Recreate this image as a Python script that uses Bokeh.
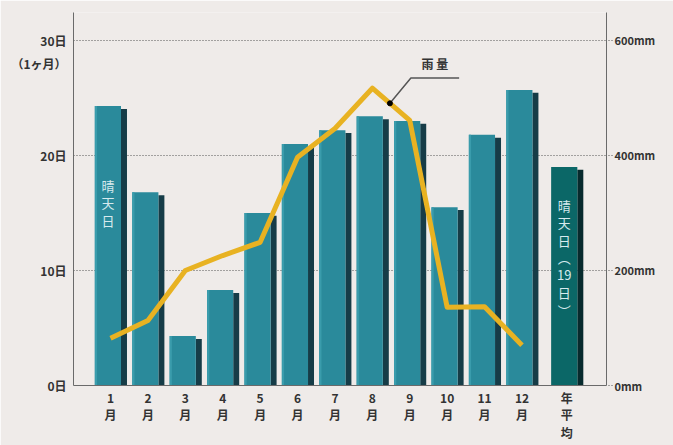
from bokeh.plotting import figure
from bokeh.models import Range1d, LinearAxis, FixedTicker, ColumnDataSource, Label
from bokeh.embed import file_html
from bokeh.resources import INLINE
from bokeh.core.properties import value

# ---------------- data ----------------
categories = ["1月", "2月", "3月", "4月", "5月", "6月", "7月", "8月", "9月", "10月", "11月", "12月", "年平均"]
tick_labels = ["1\n月", "2\n月", "3\n月", "4\n月", "5\n月", "6\n月", "7\n月", "8\n月", "9\n月", "10\n月", "11\n月", "12\n月", "年\n平\n均"]
sunny_days = [24.3, 16.8, 4.3, 8.3, 15.0, 21.0, 22.2, 23.4, 23.0, 15.5, 21.8, 25.7, 19.0]
rain_mm = [82, 113, 200, 226, 249, 397, 447, 517, 461, 136, 137, 70]
day_ticks = [0, 10, 20, 30]
day_tick_labels = ["0日", "10日", "20日", "30日"]
month_note = "（1ヶ月）"
mm_ticks = [0, 200, 400, 600]
mm_tick_labels = ["0mm", "200mm", "400mm", "600mm"]
bar_label = ["晴", "天", "日"]
avg_label = ["晴", "天", "日", "︵", "19", "日", "︶"]
rain_label = "雨 量"

# ---------------- style ----------------
BG = "#efebe9"
FRONT = "#2a8a9b"
SIDE = "#163c47"
HILITE = "#3a9cac"
AVG_FRONT = "#0b6767"
AVG_SIDE = "#072a2d"
RAIN = "#e8b222"
FONT = "Noto Sans CJK JP"
INK = "#333333"
GRID = "#555555"
AXIS = "#6a6a6a"

n = len(categories)
xs = [i + 1 for i in range(n - 1)] + [n + 0.2]

p = figure(width=673, height=445, output_backend="svg", toolbar_location=None,
           x_range=Range1d(0.01, 14.26), y_range=Range1d(0, 32.43),
           min_border_left=73, min_border_right=67, min_border_top=12, min_border_bottom=60,
           background_fill_color=BG, border_fill_color=BG, outline_line_color=None)
p.extra_y_ranges = {"mm": Range1d(0, 648.6)}

# grid
p.xgrid.visible = False
p.ygrid.ticker = FixedTicker(ticks=day_ticks[1:])
p.ygrid.grid_line_color = GRID
p.ygrid.grid_line_dash = "1 2"
p.ygrid.grid_line_width = 1

# left axis (the month note sits just under the 30日 label)
note_pos = day_ticks[-1] - 2.0
ya = p.yaxis[0]
ya.ticker = FixedTicker(ticks=day_ticks + [note_pos])
overrides = {t: l for t, l in zip(day_ticks, day_tick_labels)}
overrides[note_pos] = month_note
ya.major_label_overrides = overrides
ya.minor_tick_line_color = None
ya.major_tick_in = 0
ya.major_tick_out = 0
ya.axis_line_color = AXIS
ya.major_label_standoff = 7
ya.major_label_text_font = FONT
ya.major_label_text_font_style = "bold"
ya.major_label_text_font_size = "12px"
ya.major_label_text_color = INK

# right axis
ra = LinearAxis(y_range_name="mm", ticker=FixedTicker(ticks=mm_ticks))
ra.major_label_overrides = {t: l for t, l in zip(mm_ticks, mm_tick_labels)}
ra.minor_tick_line_color = None
ra.major_tick_in = 0
ra.major_tick_out = 6
ra.major_tick_line_dash = "1 2"
ra.major_tick_line_color = GRID
ra.axis_line_color = AXIS
ra.major_label_standoff = 2
ra.major_label_text_font = FONT
ra.major_label_text_font_style = "bold"
ra.major_label_text_font_size = "11px"
ra.major_label_text_color = INK
p.add_layout(ra, "right")

# bottom axis
xa = p.xaxis[0]
xa.ticker = FixedTicker(ticks=xs)
xa.major_label_overrides = {x: l for x, l in zip(xs, tick_labels)}
xa.major_tick_line_color = None
xa.minor_tick_line_color = None
xa.axis_line_color = AXIS
xa.major_label_standoff = -3
xa.major_label_text_font = FONT
xa.major_label_text_font_style = "bold"
xa.major_label_text_font_size = "12px"
xa.major_label_text_color = INK
xa.major_label_text_line_height = 1.05

# bars (3D look: front face + dark side + light left edge)
fronts = [FRONT] * (n - 1) + [AVG_FRONT]
sides = [SIDE] * (n - 1) + [AVG_SIDE]
src = ColumnDataSource(dict(
    fl=[x - 0.42 for x in xs], fr=[x + 0.28 for x in xs],
    sl=[x + 0.28 for x in xs], sr=[x + 0.44 for x in xs],
    top=sunny_days, stop=[v - 0.25 for v in sunny_days],
    fc=fronts, sc=sides))
p.quad(left="sl", right="sr", bottom=0, top="stop", source=src, fill_color="sc", line_color=None)
p.quad(left="fl", right="fr", bottom=0, top="top", source=src, fill_color="fc", line_color=None)
p.quad(left=[x - 0.42 for x in xs[:-1]], right=[x - 0.36 for x in xs[:-1]], bottom=0,
       top=sunny_days[:-1], fill_color=HILITE, line_color=None)

# rainfall line
p.line(xs[:12], rain_mm, y_range_name="mm", line_color=RAIN, line_width=5, line_join="round")

# in-bar vertical labels
step = 1.52
jan_src = ColumnDataSource(dict(x=[xs[0] - 0.07] * len(bar_label),
                                y=[17.4 - i * step for i in range(len(bar_label))],
                                t=bar_label))
p.text(x="x", y="y", text="t", source=jan_src, text_align="center", text_baseline="middle",
       text_font=value(FONT), text_font_size="13px", text_color="#d6eaee")
avg_src = ColumnDataSource(dict(x=[xs[-1] - 0.07] * len(avg_label),
                                y=[15.65 - i * step for i in range(len(avg_label))],
                                t=avg_label))
p.text(x="x", y="y", text="t", source=avg_src, text_align="center", text_baseline="middle",
       text_font=value(FONT), text_font_size="13px", text_color="#d6eaee")

# rainfall annotation
f = 0.47
dx = xs[7] + f * (xs[8] - xs[7])
dy = rain_mm[7] + f * (rain_mm[8] - rain_mm[7])
p.line([dx, dx + 0.56, dx + 1.85], [dy, dy + 44, dy + 44], y_range_name="mm",
       line_color="#555555", line_width=1.5)
p.scatter([dx], [dy], y_range_name="mm", size=5, color="black")
p.add_layout(Label(x=dx + 1.2, y=dy + 44, y_range_name="mm", y_offset=6, text=rain_label,
                   text_align="center", text_baseline="bottom", text_font=FONT,
                   text_font_style="bold", text_font_size="12px", text_color=INK))

open("out.html", "w").write(file_html(p, INLINE))
